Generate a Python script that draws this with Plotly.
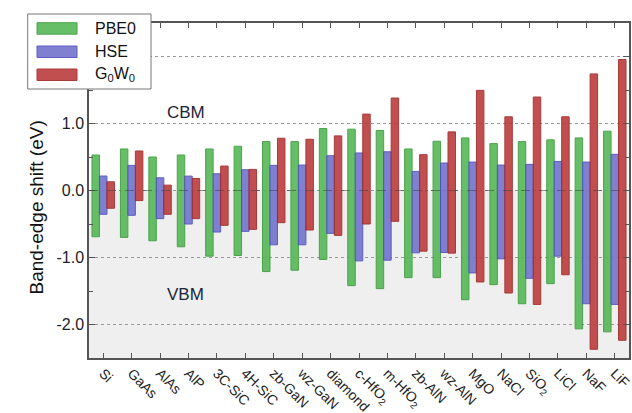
import plotly.graph_objects as go

# Materials along the x axis
materials = ["Si", "GaAs", "AlAs", "AlP", "3C-SiC", "4H-SiC", "zb-GaN", "wz-GaN",
             "diamond", "c-HfO<sub>2</sub>", "m-HfO<sub>2</sub>", "zb-AlN", "wz-AlN",
             "MgO", "NaCl", "SiO<sub>2</sub>", "LiCl", "NaF", "LiF"]

# Conduction-band-minimum shifts (top of each bar), eV
pbe0_cbm = [0.53, 0.62, 0.50, 0.53, 0.62, 0.66, 0.73, 0.73, 0.925, 0.915,
            0.895, 0.62, 0.735, 0.785, 0.70, 0.73, 0.756, 0.785, 0.885]
hse_cbm = [0.216, 0.375, 0.19, 0.215, 0.25, 0.31, 0.375, 0.38, 0.52, 0.56,
           0.578, 0.285, 0.41, 0.424, 0.38, 0.39, 0.434, 0.424, 0.54]
g0w0_cbm = [0.13, 0.59, 0.08, 0.18, 0.365, 0.315, 0.78, 0.765, 0.815, 1.14,
            1.38, 0.535, 0.875, 1.495, 1.10, 1.395, 1.10, 1.74, 1.955]

# Valence-band-maximum shifts (bottom of each bar), eV
pbe0_vbm = [-0.69, -0.70, -0.75, -0.84, -0.98, -0.97, -1.21, -1.19, -1.03, -1.42,
            -1.465, -1.30, -1.30, -1.63, -1.405, -1.69, -1.39, -2.065, -2.11]
hse_vbm = [-0.355, -0.37, -0.42, -0.50, -0.62, -0.61, -0.81, -0.81, -0.64, -1.05,
           -1.04, -0.93, -0.925, -1.23, -1.02, -1.31, -0.98, -1.69, -1.70]
g0w0_vbm = [-0.265, -0.15, -0.355, -0.42, -0.52, -0.58, -0.48, -0.59, -0.67, -0.50,
            -0.46, -0.905, -0.935, -1.365, -1.53, -1.70, -1.257, -2.37, -2.235]

y_ticks = [-2, -1, 0, 1, 2]
y_ticktext = ["-2.0", "-1.0", "0.0", "1.0", "2.0"]

series = [
    ("PBE0", pbe0_cbm, pbe0_vbm, "#56b856", "#3a9a3a"),
    ("HSE", hse_cbm, hse_vbm, "#7373cc", "#4d4dc0"),
    ("G<sub>0</sub>W<sub>0</sub>", g0w0_cbm, g0w0_vbm, "#bb3d3d", "#a02525"),
]

FONT = "Liberation Sans, Arial, sans-serif"
W, H = 632, 413
ML, MR, MT, MB = 89, 3, 23, 55
PW, PH = W - ML - MR, H - MT - MB


def px(X):
    return (X - ML) / PW


def py(Y):
    return (H - MB - Y) / PH


fig = go.Figure()
for name, top, bot, fill, edge in series:
    fig.add_trace(go.Bar(
        x=materials,
        y=[t - b for t, b in zip(top, bot)],
        base=bot,
        name=name,
        marker=dict(color=fill, line=dict(color=edge, width=1)),
        opacity=0.9,
        showlegend=False,
    ))

shapes = [
    # shaded valence-band half of the plot
    dict(type="rect", xref="paper", yref="y", x0=0, x1=1, y0=-2.5, y1=0,
         fillcolor="#efefef", line=dict(width=0), layer="below"),
    # zero reference line over the bars
    dict(type="line", xref="paper", yref="y", x0=0, x1=1, y0=0, y1=0,
         line=dict(color="rgba(70,70,70,0.55)", width=1, dash="dash"), layer="above"),
    # legend frame (covers the top-left corner of the axes)
    dict(type="rect", xref="paper", yref="paper", x0=px(27.7), x1=px(151),
         y0=py(89), y1=py(14), fillcolor="white",
         line=dict(color="#777", width=1), layer="above"),
]

annotations = []
legend_rows = [22.7, 46, 69]
for (name, _, _, fill, edge), yt in zip(series, legend_rows):
    shapes.append(dict(type="rect", xref="paper", yref="paper",
                       x0=px(37), x1=px(77), y0=py(yt + 11.5), y1=py(yt),
                       fillcolor=fill, line=dict(color=edge, width=1),
                       opacity=0.9, layer="above"))
    annotations.append(dict(xref="paper", yref="paper", x=px(93), y=py(yt + 5.8),
                            xanchor="left", yanchor="middle", showarrow=False,
                            text=name, font=dict(family=FONT, size=16, color="#111")))

annotations += [
    dict(xref="paper", yref="paper", x=px(165), y=py(101), text="CBM",
         showarrow=False, font=dict(family=FONT, size=17, color="#1a2638")),
    dict(xref="paper", yref="paper", x=px(165), y=py(306), text="VBM",
         showarrow=False, font=dict(family=FONT, size=17, color="#1a2638")),
    dict(xref="paper", yref="paper", x=px(23), y=py(208), text="Band-edge shift (eV)",
         textangle=-90, showarrow=False, font=dict(family=FONT, size=19, color="#111")),
]

fig.update_layout(
    width=W, height=H,
    margin=dict(l=ML, r=MR, t=MT, b=MB, autoexpand=False),
    paper_bgcolor="white", plot_bgcolor="white",
    barmode="group", bargap=0.21, bargroupgap=0,
    font=dict(family=FONT, color="#222"),
    shapes=shapes, annotations=annotations,
    showlegend=False,
)
fig.update_xaxes(
    range=[-0.5, 18.5], tickangle=45, tickfont=dict(size=14, color="#222"),
    ticks="inside", ticklen=5, tickcolor="#555", mirror="ticks",
    showline=True, linecolor="#555", linewidth=1.5, showgrid=False,
    automargin=False,
)
fig.update_yaxes(
    range=[-2.5, 2.5], tickvals=y_ticks, ticktext=y_ticktext,
    tickfont=dict(size=16, color="#222"),
    ticks="inside", ticklen=6, tickcolor="#555", mirror="ticks",
    showline=True, linecolor="#555", linewidth=1.5,
    showgrid=True, gridcolor="#999", griddash="dot", gridwidth=1,
    zeroline=False, automargin=False,
    minor=dict(dtick=0.5, ticks="inside", ticklen=4, tickcolor="#555", showgrid=False),
)

fig.write_html("out.html")
